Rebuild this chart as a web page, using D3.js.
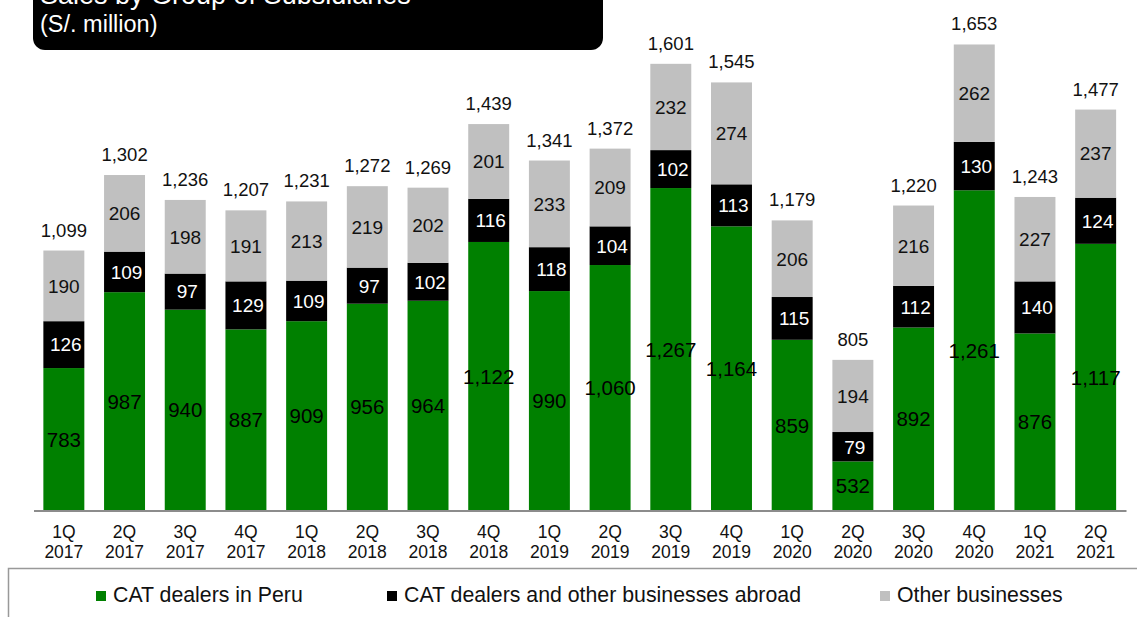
<!DOCTYPE html>
<html>
<head>
<meta charset="utf-8">
<script src="https://cdn.jsdelivr.net/npm/d3@7"></script>
<style>
    body { margin: 0; background: #fff; }
    svg { display: block; font-family: "Liberation Sans", Arial, sans-serif; }
</style>
</head>
<body>
<div id="chart"></div>
<script>
// quarters on the x axis (two lines each)
const quarters = ["1Q", "2Q", "3Q", "4Q", "1Q", "2Q", "3Q", "4Q", "1Q", "2Q", "3Q", "4Q", "1Q", "2Q", "3Q", "4Q", "1Q", "2Q"];
const years = ["2017", "2017", "2017", "2017", "2018", "2018", "2018", "2018", "2019", "2019", "2019", "2019", "2020", "2020", "2020", "2020", "2021", "2021"];

// S/. million per group
const catPeru = [783, 987, 940, 887, 909, 956, 964, 1122, 990, 1060, 1267, 1164, 859, 532, 892, 1261, 876, 1117];
const catAbroad = [126, 109, 97, 129, 109, 97, 102, 116, 118, 104, 102, 113, 115, 79, 112, 130, 140, 124];
const otherBiz = [190, 206, 198, 191, 213, 219, 202, 201, 233, 209, 232, 274, 206, 194, 216, 262, 227, 237];
const totals = [1099, 1302, 1236, 1207, 1231, 1272, 1269, 1439, 1341, 1372, 1601, 1545, 1179, 805, 1220, 1653, 1243, 1477];

const seriesNames = ["CAT dealers in Peru", "CAT dealers and other businesses abroad", "Other businesses"];

class StackedBars {
    constructor(_config) {
        this.config = {
            parentElement: _config.parentElement,
            width: _config.width || 1137,
            height: _config.height || 617,
        };
        this.initVis();
    }

    initVis() {
        let vis = this;
        const fmt = d3.format(",");

        vis.svg = d3.select(vis.config.parentElement).append("svg")
            .attr("width", vis.config.width)
            .attr("height", vis.config.height);

        // one row per quarter, keys for the stack
        vis.keys = ["peru", "abroad", "other"];
        vis.colors = { peru: "#008000", abroad: "#000000", other: "#c0c0c0" };
        vis.labelColors = { peru: "#000", abroad: "#fff", other: "#111" };
        vis.rows = quarters.map((q, i) => ({
            id: q + " " + years[i],
            q: q,
            year: years[i],
            peru: catPeru[i],
            abroad: catAbroad[i],
            other: otherBiz[i],
            total: totals[i],
        }));

        // the original axis does not start at zero
        vis.x = d3.scaleBand()
            .domain(vis.rows.map((d) => d.id))
            .range([33.5, 1126])
            .paddingInner(0.325)
            .paddingOuter(0.1625);
        vis.y = d3.scaleLinear().domain([400, 1700]).range([510.5, 27]);

        vis.stack = d3.stack().keys(vis.keys)(vis.rows);

        //stacked segments
        const layers = vis.svg.selectAll("g.layer")
            .data(vis.stack)
            .join("g")
            .attr("class", "layer")
            .attr("fill", (s) => vis.colors[s.key]);

        layers.selectAll("rect")
            .data((s) => s)
            .join("rect")
            .attr("x", (d) => vis.x(d.data.id))
            .attr("width", vis.x.bandwidth())
            .attr("y", (d) => vis.y(d[1]))
            .attr("height", (d) => vis.y(Math.max(d[0], 400)) - vis.y(d[1]));

        //labels inside each segment
        vis.stack.forEach((s) => {
            vis.svg.append("g")
                .selectAll("text")
                .data(s)
                .join("text")
                .attr("x", (d) => vis.x(d.data.id) + vis.x.bandwidth() / 2 + (s.key === "abroad" ? 2 : 0))
                .attr("y", (d) => (vis.y(Math.max(d[0], 400)) + vis.y(d[1])) / 2)
                .attr("dy", "0.36em")
                .attr("text-anchor", "middle")
                .attr("font-size", s.key === "peru" ? 20.5 : 19)
                .attr("fill", vis.labelColors[s.key])
                .text((d) => fmt(d.data[s.key]));
        });

        //totals on top of the bars
        vis.svg.append("g")
            .selectAll("text")
            .data(vis.rows)
            .join("text")
            .attr("x", (d) => vis.x(d.id) + vis.x.bandwidth() / 2)
            .attr("y", (d) => vis.y(d.peru + d.abroad + d.other) - 14)
            .attr("text-anchor", "middle")
            .attr("font-size", 18.5)
            .attr("fill", "#111")
            .text((d) => fmt(d.total));

        //x axis: just the line and two-line tick labels
        const xAxis = d3.axisBottom(vis.x).tickSize(0).tickFormat("");
        const gx = vis.svg.append("g")
            .attr("transform", `translate(0,${vis.y(400)})`)
            .call(xAxis);
        gx.select(".domain").attr("stroke", "#8c8c8c").attr("stroke-width", 2);

        gx.selectAll(".tick").each(function (id) {
            const row = vis.rows.find((r) => r.id === id);
            const t = d3.select(this).append("text")
                .attr("text-anchor", "middle")
                .attr("fill", "#111")
                .attr("font-size", 17.5);
            t.append("tspan").attr("x", 0).attr("y", 27).text(row.q);
            t.append("tspan").attr("x", 0).attr("y", 47).text(row.year);
        });

        //title box at the top (first line runs off the top edge, as in the original)
        vis.svg.append("rect")
            .attr("x", 33)
            .attr("y", -20)
            .attr("width", 570)
            .attr("height", 70)
            .attr("rx", 12)
            .attr("fill", "#000");
        vis.svg.append("text")
            .attr("x", 40)
            .attr("y", 4)
            .attr("font-size", 27)
            .attr("fill", "#fff")
            .text("Sales by Group of Subsidiaries");
        vis.svg.append("text")
            .attr("x", 40)
            .attr("y", 32)
            .attr("font-size", 23.5)
            .attr("fill", "#fff")
            .text("(S/. million)");

        //legend box, cut off by the right and bottom edges
        vis.svg.append("rect")
            .attr("x", 8.5)
            .attr("y", 568.5)
            .attr("width", 1140)
            .attr("height", 80)
            .attr("fill", "none")
            .attr("stroke", "#999")
            .attr("stroke-width", 1.5);

        const legendX = [113, 404, 897];
        const legend = vis.svg.append("g")
            .selectAll("g")
            .data(vis.keys)
            .join("g")
            .attr("transform", (d, i) => `translate(${legendX[i]},602)`);
        legend.append("rect")
            .attr("x", -17)
            .attr("y", -11)
            .attr("width", 10)
            .attr("height", 10)
            .attr("fill", (d) => vis.colors[d]);
        legend.append("text")
            .attr("font-size", 21.3)
            .attr("fill", "#111")
            .text((d, i) => seriesNames[i]);
    }
}

new StackedBars({ parentElement: "#chart" });
</script>
</body>
</html>
